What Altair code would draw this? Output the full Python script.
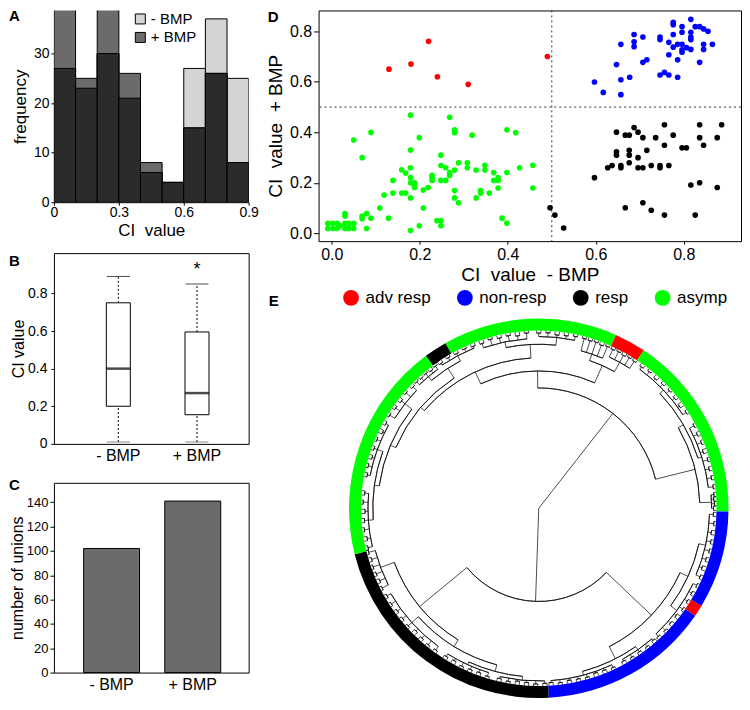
import altair as alt
import pandas as pd

FONT = "Liberation Sans"
ZERO_LABEL = "datum.value == 0 ? '0' : format(datum.value, '.1f')"

# ---------------- Panel A: overlaid histograms ----------------
hist_bin_start = [0.0, 0.1, 0.2, 0.3, 0.4, 0.5, 0.6, 0.7, 0.8]
hist_bin_end = [0.1, 0.2, 0.3, 0.4, 0.5, 0.6, 0.7, 0.8, 0.9]
hist_minus_bmp = [27, 23, 30, 21, 6, 4, 27, 37, 25]
hist_plus_bmp = [40, 25, 40, 26, 8, 4, 15, 26, 8]
hist_series = ["- BMP", "+ BMP"]

# ---------------- Panel B: box plot summaries ----------------
box_groups = ["- BMP", "+ BMP"]
box_low = [0.01, 0.01]
box_q1 = [0.20, 0.155]
box_median = [0.40, 0.27]
box_q3 = [0.75, 0.595]
box_high = [0.89, 0.85]
box_star_group = ["+ BMP"]
box_star_value = [0.926]

# ---------------- Panel C: number of unions ----------------
union_groups = ["- BMP", "+ BMP"]
union_counts = [102, 141]

# ---------------- Panel D: scatter ----------------
classes = ["adv resp", "non-resp", "resp", "asymp"]
class_colors = ["#ff0000", "#0000ff", "#000000", "#00ff00"]
quadrant_cut = [0.5]

adv_x = [0.13, 0.18, 0.22, 0.24, 0.31, 0.49]
adv_y = [0.65, 0.67, 0.76, 0.62, 0.59, 0.70]

non_x = [0.597, 0.617, 0.657, 0.657, 0.647, 0.657, 0.677, 0.687, 0.687, 0.687, 0.707, 0.707,
         0.716, 0.746, 0.756, 0.766, 0.746, 0.746, 0.766, 0.766, 0.776, 0.776, 0.776, 0.776,
         0.786, 0.786, 0.786, 0.796, 0.796, 0.796, 0.796, 0.806, 0.816, 0.816, 0.816, 0.816,
         0.816, 0.826, 0.836, 0.836, 0.845, 0.845, 0.845, 0.855, 0.865, 0.796]
non_y = [0.599, 0.558, 0.549, 0.608, 0.668, 0.748, 0.618, 0.739, 0.758, 0.787, 0.777, 0.677,
         0.687, 0.627, 0.637, 0.627, 0.777, 0.767, 0.756, 0.707, 0.787, 0.835, 0.826, 0.737,
         0.748, 0.687, 0.618, 0.748, 0.726, 0.796, 0.818, 0.735, 0.796, 0.777, 0.767, 0.847,
         0.728, 0.818, 0.818, 0.677, 0.809, 0.748, 0.728, 0.800, 0.748, 0.717]

resp_x = [0.496, 0.507, 0.527, 0.597, 0.627, 0.637, 0.647, 0.647, 0.647, 0.657, 0.657, 0.667,
          0.676, 0.676, 0.676, 0.676, 0.687, 0.696, 0.696, 0.696, 0.707, 0.707, 0.716, 0.726,
          0.736, 0.746, 0.746, 0.756, 0.756, 0.766, 0.776, 0.796, 0.806, 0.836, 0.836, 0.845,
          0.876, 0.886, 0.667, 0.707, 0.726, 0.756, 0.816, 0.836, 0.826, 0.876]
resp_y = [0.102, 0.073, 0.022, 0.221, 0.260, 0.269, 0.401, 0.323, 0.310, 0.269, 0.260, 0.389,
          0.389, 0.329, 0.310, 0.280, 0.419, 0.300, 0.401, 0.260, 0.379, 0.260, 0.329, 0.269,
          0.379, 0.269, 0.260, 0.430, 0.349, 0.269, 0.389, 0.339, 0.339, 0.430, 0.379, 0.349,
          0.379, 0.430, 0.102, 0.122, 0.092, 0.073, 0.192, 0.201, 0.073, 0.182]

asymp_x = [-0.009, -0.009, 0.002, 0.002, 0.012, 0.012, 0.019, 0.030, 0.030, 0.039, 0.039, 0.050,
           0.050, 0.030, 0.030, 0.050, 0.069, 0.089, 0.069, 0.069, 0.079, 0.079, 0.089, 0.109,
           0.119, 0.129, 0.139, 0.139, 0.159, 0.159, 0.168, 0.168, 0.179, 0.179, 0.179, 0.179,
           0.179, 0.179, 0.179, 0.188, 0.188, 0.188, 0.199, 0.199, 0.208, 0.208, 0.219, 0.228,
           0.228, 0.228, 0.239, 0.248, 0.248, 0.248, 0.248, 0.248, 0.259, 0.259, 0.268, 0.268,
           0.268, 0.279, 0.279, 0.279, 0.279, 0.279, 0.288, 0.288, 0.308, 0.308, 0.319, 0.328,
           0.328, 0.338, 0.338, 0.348, 0.348, 0.358, 0.368, 0.368, 0.378, 0.378, 0.378, 0.387,
           0.398, 0.398, 0.398, 0.418, 0.427, 0.457, 0.457]
asymp_y = [0.040, 0.020, 0.040, 0.020, 0.040, 0.020, 0.031, 0.040, 0.020, 0.040, 0.020, 0.040,
           0.020, 0.079, 0.069, 0.370, 0.300, 0.400, 0.069, 0.059, 0.079, 0.020, 0.061, 0.101,
           0.152, 0.061, 0.210, 0.160, 0.252, 0.160, 0.239, 0.160, 0.468, 0.330, 0.260, 0.221,
           0.201, 0.141, 0.012, 0.201, 0.191, 0.182, 0.379, 0.031, 0.172, 0.101, 0.182, 0.230,
           0.221, 0.210, 0.051, 0.310, 0.269, 0.210, 0.051, 0.031, 0.260, 0.210, 0.460, 0.241,
           0.230, 0.410, 0.399, 0.251, 0.170, 0.141, 0.280, 0.122, 0.280, 0.260, 0.389, 0.251,
           0.141, 0.170, 0.160, 0.270, 0.251, 0.160, 0.241, 0.210, 0.221, 0.210, 0.180, 0.061,
           0.410, 0.241, 0.041, 0.399, 0.260, 0.270, 0.180]

# ---------------- Panel E: circular dendrogram ----------------
# internal nodes: id, parent, angle (deg, clockwise from top), radius
node_id = ["root", "A", "B", "A1", "A2", "A1a", "A1b", "A1aL", "A1aR", "A1aL1", "A1aL2",
           "Q1", "Q2", "Q1a", "Q1b", "T1", "T2", "T3", "T4", "T5", "T6", "A2a", "A2b", "T7", "T8",
           "BR", "BL", "BR1", "BR2", "T9", "T10", "T11", "T12", "BL1", "BL2", "T13", "T14",
           "T13a", "T13b"]
node_parent = ["", "root", "root", "A", "A", "A1", "A1", "A1a", "A1a", "A1aL", "A1aL",
               "A1aL1", "A1aL1", "Q1", "Q1", "A1aL2", "A1aL2", "A1aR", "A1aR", "A1b", "A1b", "A2", "A2",
               "A2a", "A2a", "B", "B", "BR", "BR", "BR1", "BR1", "BR2", "BR2", "BL", "BL", "BL1", "BL1",
               "T13", "T13"]
node_theta = [110, 38, 182, -0.5, 76, -25, 24, -49.5, -3, -67, -33,
              -82, -52, -94, -70, -40, -28, -11.5, 6, 19, 29, 60, 88, 46.5, 72.5,
              133.5, 230.5, 114.5, 153, 102.5, 126.5, 145, 165, 211.5, 249.5, 195, 228,
              185.5, 204.5]
node_radius = [0, 124, 96, 141.5, 166, 155, 161, 160, 169, 166, 172,
               171, 175, 176, 177, 177, 178, 175, 177, 168, 172, 172, 178, 177, 176,
               160, 159, 169, 174, 176, 177, 178, 178, 167, 174, 174, 176,
               178, 177]
# small twigs near the ring: parent node, angle and radius of each twig
twig_parent = (["Q1a"] * 7 + ["Q1b"] * 7 + ["Q2"] * 5 + ["T1"] * 5 + ["T2"] * 5 + ["T3"] * 6
               + ["T4"] * 5 + ["T5"] * 5 + ["T6"] * 5 + ["T7"] * 8 + ["T8"] * 8 + ["A2b"] * 4
               + ["T9"] * 8 + ["T10"] * 8 + ["T11"] * 5 + ["T12"] * 8 + ["T13a"] * 6 + ["T13b"] * 6
               + ["T14"] * 9 + ["BL2"] * 6)
twig_theta = [-103, -100, -97, -94, -91, -88, -85,
              -79, -76, -73, -70, -67, -64, -61,
              -58, -55, -52, -49, -46,
              -44, -42, -40, -38, -36,
              -34, -31, -28, -25, -22,
              -19, -16, -13, -10, -7, -4,
              0, 3, 6, 9, 12,
              15, 17, 19, 21, 23,
              25, 27, 29, 31, 33,
              36, 39, 42, 45, 48, 51, 54, 57,
              62, 65, 68, 71, 74, 77, 80, 83,
              85.5, 87, 88.5, 90,
              92, 95, 98, 101, 104, 107, 110, 113,
              116, 119, 122, 125, 128, 131, 134, 137,
              139, 142, 145, 148, 151,
              155, 158, 161, 164, 167, 170, 173, 176,
              178, 181, 184, 187, 190, 193,
              197, 200, 203, 206, 209, 212,
              216, 219, 222, 225, 228, 231, 234, 237, 240,
              243, 245.5, 248, 250.5, 253, 255.5]
twig_radius = [180.5, 179.5, 181, 180, 179, 181, 180,
               180, 181, 179.5, 180.5, 181, 179, 180,
               181, 180, 179.5, 181, 180,
               181, 180.5, 181, 180, 181,
               180, 181, 180.5, 181, 180,
               179.5, 181, 180, 180.5, 179, 181,
               180.5, 181, 179.5, 180, 181,
               181, 180.5, 181, 180, 181,
               180.5, 181, 180, 181, 180.5,
               180, 181, 179.5, 180.5, 181, 180, 179, 181,
               181, 180, 180.5, 179, 181, 180, 180.5, 181,
               181, 180.5, 181, 180,
               180, 181, 179.5, 180.5, 181, 180, 179, 180.5,
               181, 180, 180.5, 181, 179.5, 180, 181, 180.5,
               180, 181, 180.5, 181, 180,
               181, 180, 179.5, 181, 180.5, 180, 181, 180,
               180.5, 181, 180, 179.5, 181, 180,
               181, 180, 180.5, 181, 179.5, 180,
               180.5, 181, 180, 179, 181, 180.5, 180, 181, 180.5,
               181, 180, 180.5, 181, 180, 181]
twig_half_width = 0.7   # angular half spread of the two leaves of a twig (deg)

ring_start = [-29.5, 24, 33.6, 91, 121, 124.5, 177, 256, 323.5]
ring_end = [24, 33.6, 91, 121, 124.5, 177, 256, 323.5, 330.5]
ring_class = ["asymp", "adv resp", "asymp", "non-resp", "adv resp", "non-resp", "resp", "asymp", "resp"]
R_MAX = 195.5        # data radius of the ring's outer edge

# ---------------- helpers ----------------
def letter(ch, dx, dy):
    return alt.Chart(pd.DataFrame({"t": [ch]})).mark_text(
        font=FONT, fontSize=15, fontWeight="bold", align="left", baseline="alphabetic", color="black"
    ).encode(x=alt.value(dx), y=alt.value(dy), text="t:N")

frame = alt.ViewBackground(stroke="black", strokeWidth=1)

# ---------------- Panel A ----------------
nb = len(hist_bin_start)
hist_df = pd.DataFrame({
    "start": hist_bin_start * 2,
    "end": hist_bin_end * 2,
    "freq": hist_minus_bmp + hist_plus_bmp,
    "series": [hist_series[0]] * nb + [hist_series[1]] * nb,
})
overlap_df = pd.DataFrame({
    "start": hist_bin_start, "end": hist_bin_end,
    "freq": [min(a, b) for a, b in zip(hist_minus_bmp, hist_plus_bmp)],
})
A_xscale = alt.Scale(domain=[0, 0.9], nice=False, zero=False)
A_xaxis = alt.Axis(values=[0, 0.3, 0.6, 0.9], labelExpr=ZERO_LABEL, title="CI\u00a0\u00a0value",
                   tickSize=3, labelPadding=0, titlePadding=3, labelFontSize=14, titleFontSize=17,
                   labelFlush=False, labelOverlap=False)
A_yscale = alt.Scale(domain=[0, 38.7], nice=False, zero=True)
A_yaxis = alt.Axis(values=[0, 10, 20, 30], title="frequency", tickSize=3, labelPadding=2,
                   titlePadding=4, labelFontSize=14, titleFontSize=17)
A_bars = alt.Chart(hist_df).mark_bar(stroke="black", strokeWidth=1, clip=True, opacity=1).encode(
    x=alt.X("start:Q", scale=A_xscale, axis=A_xaxis),
    x2="end:Q",
    y=alt.Y("freq:Q", stack=None, scale=A_yscale, axis=A_yaxis),
    y2=alt.datum(0),
    color=alt.Color("series:N", scale=alt.Scale(domain=hist_series, range=["#d4d4d4", "#6b6b6b"]),
                    legend=alt.Legend(title=None, orient="none", legendX=79, legendY=1,
                                      symbolType="square", symbolSize=100, symbolStrokeColor="black",
                                      symbolStrokeWidth=1, labelFontSize=15, labelOffset=3,
                                      rowPadding=2.5, padding=0)),
)
A_dark = alt.Chart(overlap_df).mark_bar(color="#2b2b2b", stroke="black", strokeWidth=1, clip=True).encode(
    x=alt.X("start:Q", scale=A_xscale, axis=A_xaxis),
    x2="end:Q",
    y=alt.Y("freq:Q", stack=None, scale=A_yscale, axis=A_yaxis),
    y2=alt.datum(0),
)
panel_A = alt.layer(A_bars, A_dark, letter("A", -45, 10.7)).properties(width=195, height=192)

# ---------------- Panel B ----------------
box_df = pd.DataFrame({"group": box_groups, "low": box_low, "q1": box_q1, "median": box_median,
                       "q3": box_q3, "high": box_high})
B_x = alt.X("group:N", sort=box_groups,
            scale=alt.Scale(domain=box_groups, paddingInner=0.695, paddingOuter=0.585, align=0.569),
            axis=alt.Axis(title=None, labelAngle=0, ticks=False, domain=False, labelFontSize=16,
                          labelPadding=3.5))
B_yscale = alt.Scale(domain=[0, 1.014], nice=False, zero=False)
B_yaxis = alt.Axis(values=[0, 0.2, 0.4, 0.6, 0.8], labelExpr=ZERO_LABEL, title="CI value",
                   tickSize=3, labelPadding=4, titlePadding=1, labelFontSize=14, titleFontSize=16,
                   domain=False)
def By(field):
    return alt.Y(field, scale=B_yscale, axis=B_yaxis)
B_base = alt.Chart(box_df).encode(x=B_x)
B_wh = B_base.mark_rule(color="black", strokeDash=[2, 2], strokeWidth=1).encode(y=By("q3:Q"), y2="high:Q")
B_wl = B_base.mark_rule(color="black", strokeDash=[2, 2], strokeWidth=1).encode(y=By("low:Q"), y2="q1:Q")
B_ch = B_base.mark_tick(color="black", thickness=1, size=23).encode(y=By("high:Q"))
B_cl = B_base.mark_tick(color="#555555", thickness=1, size=23).encode(y=By("low:Q"))
B_box = B_base.mark_bar(fill="white", stroke="black", strokeWidth=1).encode(y=By("q1:Q"), y2="q3:Q")
B_med = B_base.mark_tick(color="black", thickness=2.5, size=24).encode(y=By("median:Q"))
B_star = alt.Chart(pd.DataFrame({"group": box_star_group, "v": box_star_value, "t": ["*"]})).mark_text(
    fontSize=18, baseline="middle", font=FONT, color="black").encode(x=B_x, y=By("v:Q"), text="t:N")
panel_B = alt.layer(B_wh, B_wl, B_ch, B_cl, B_box, B_med, B_star, letter("B", -45, 12.4)).properties(
    width=195, height=191, view=frame)

# ---------------- Panel C ----------------
union_df = pd.DataFrame({"group": union_groups, "count": union_counts})
C_bars = alt.Chart(union_df).mark_bar(color="#6b6b6b", stroke="black", strokeWidth=1).encode(
    x=alt.X("group:N", sort=union_groups,
            scale=alt.Scale(domain=union_groups, paddingInner=0.311, paddingOuter=0.355, align=0.515),
            axis=alt.Axis(title=None, labelAngle=0, ticks=False, domain=False, labelFontSize=16,
                          labelPadding=4)),
    y=alt.Y("count:Q", scale=alt.Scale(domain=[0, 156], nice=False),
            axis=alt.Axis(values=[0, 20, 40, 60, 80, 100, 120, 140], title="number of unions",
                          tickSize=4, labelPadding=2, titlePadding=1, labelFontSize=13,
                          titleFontSize=16, domain=False)),
)
panel_C = alt.layer(C_bars, letter("C", -45, 7.5)).properties(width=195, height=190, view=frame)

# ---------------- Panel D ----------------
scatter_df = pd.concat([
    pd.DataFrame({"x": adv_x, "y": adv_y, "cls": "adv resp"}),
    pd.DataFrame({"x": non_x, "y": non_y, "cls": "non-resp"}),
    pd.DataFrame({"x": resp_x, "y": resp_y, "cls": "resp"}),
    pd.DataFrame({"x": asymp_x, "y": asymp_y, "cls": "asymp"}),
], ignore_index=True)
D_xscale = alt.Scale(domain=[-0.03, 0.93], nice=False, zero=False)
D_xaxis = alt.Axis(values=[0, 0.2, 0.4, 0.6, 0.8], format=".1f", title="CI\u00a0 value\u00a0 - BMP",
                   tickSize=3, labelPadding=2, titlePadding=3, labelFontSize=16, titleFontSize=19,
                   domain=False, labelFlush=False)
D_yscale = alt.Scale(domain=[-0.03, 0.882], nice=False, zero=False)
D_yaxis = alt.Axis(values=[0, 0.2, 0.4, 0.6, 0.8], format=".1f", title="CI\u00a0 value\u00a0 + BMP",
                   tickSize=5, labelPadding=2, titlePadding=4, labelFontSize=16, titleFontSize=19,
                   domain=False)
cut_df = pd.DataFrame({"v": quadrant_cut})
D_v = alt.Chart(cut_df).mark_rule(color="#333333", strokeDash=[2, 3], strokeWidth=1).encode(
    x=alt.X("v:Q", scale=D_xscale, axis=D_xaxis))
D_h = alt.Chart(cut_df).mark_rule(color="#333333", strokeDash=[2, 3], strokeWidth=1).encode(
    y=alt.Y("v:Q", scale=D_yscale, axis=D_yaxis))
D_pts = alt.Chart(scatter_df).mark_circle(size=32, opacity=1).encode(
    x=alt.X("x:Q", scale=D_xscale, axis=D_xaxis),
    y=alt.Y("y:Q", scale=D_yscale, axis=D_yaxis),
    color=alt.Color("cls:N", scale=alt.Scale(domain=classes, range=class_colors), legend=None),
)
panel_D = alt.layer(D_v, D_h, D_pts, letter("D", -51, 11.7)).properties(width=423, height=231, view=frame)

# ---------------- Panel E ----------------
E_W, E_H = 423, 380          # view size (px)
CX, CY = 220.5, 191.5        # ring centre inside the view (px)
R_OUT, R_IN = 190, 178       # ring radii (px)
k = R_OUT / R_MAX            # px per data unit
ring_inner_data = R_IN / k

nodes = pd.DataFrame({"id": node_id, "parent": node_parent, "theta": node_theta, "r": node_radius})
twigs = pd.DataFrame({"parent": twig_parent, "theta": twig_theta, "r": twig_radius})
twigs["id"] = ["twig%d" % i for i in range(len(twigs))]
all_nodes = pd.concat([nodes, twigs[["id", "parent", "theta", "r"]]], ignore_index=True)
leaves = pd.concat([
    pd.DataFrame({"parent": twigs["id"], "theta": twigs["theta"] - twig_half_width}),
    pd.DataFrame({"parent": twigs["id"], "theta": twigs["theta"] + twig_half_width}),
], ignore_index=True)
r_of = dict(zip(all_nodes["id"], all_nodes["r"]))
children = pd.concat([all_nodes[all_nodes["parent"] != ""][["parent", "theta"]], leaves], ignore_index=True)
span = children.groupby("parent")["theta"].agg(["min", "max"]).reset_index()
arcs_df = span[span["parent"] != "root"].copy()
arcs_df["r"] = arcs_df["parent"].map(r_of)

seg_nodes = all_nodes[all_nodes["parent"] != ""]
segs_df = pd.concat([
    pd.DataFrame({"theta": seg_nodes["theta"], "r0": seg_nodes["parent"].map(r_of), "r1": seg_nodes["r"]}),
    pd.DataFrame({"theta": leaves["theta"], "r0": leaves["parent"].map(r_of), "r1": ring_inner_data}),
], ignore_index=True)
ring_df = pd.DataFrame({"t0": ring_start, "t1": ring_end, "cls": ring_class})

E_xscale = alt.Scale(domain=[-CX / k, (E_W - CX) / k], nice=False, zero=False)
E_yscale = alt.Scale(domain=[-(E_H - CY) / k, CY / k], nice=False, zero=False)
theta_scale = alt.Scale(domain=[0, 360], range=[0, 6.283185307179586])
radius_scale = alt.Scale(type="linear", domain=[0, R_MAX], range=[0, R_OUT], zero=True)

E_segs = alt.Chart(segs_df).transform_calculate(
    xa="datum.r0 * sin(datum.theta * PI / 180)",
    ya="datum.r0 * cos(datum.theta * PI / 180)",
    xb="datum.r1 * sin(datum.theta * PI / 180)",
    yb="datum.r1 * cos(datum.theta * PI / 180)",
).mark_rule(color="black", strokeWidth=0.7).encode(
    x=alt.X("xa:Q", scale=E_xscale, axis=None),
    y=alt.Y("ya:Q", scale=E_yscale, axis=None),
    x2="xb:Q", y2="yb:Q",
)
E_arcs = alt.Chart(arcs_df).mark_arc(filled=False, color="black", strokeWidth=0.7).encode(
    theta=alt.Theta("min:Q", scale=theta_scale),
    theta2="max:Q",
    radius=alt.Radius("r:Q", scale=radius_scale),
    radius2="r:Q",
    x=alt.value(CX), y=alt.value(CY),
)
E_ring = alt.Chart(ring_df).mark_arc().encode(
    theta=alt.Theta("t0:Q", scale=theta_scale),
    theta2="t1:Q",
    radius=alt.value(R_OUT),
    radius2=alt.value(R_IN),
    x=alt.value(CX), y=alt.value(CY),
    color=alt.Color("cls:N", scale=alt.Scale(domain=classes, range=class_colors),
                    legend=alt.Legend(title=None, orient="none", legendX=24, legendY=-28,
                                      direction="horizontal", columns=4, symbolType="circle",
                                      symbolSize=250, symbolStrokeWidth=0, labelFontSize=17,
                                      columnPadding=25, labelOffset=6, padding=0)),
)
panel_E = alt.layer(E_segs, E_arcs, E_ring, letter("E", -50, -11.2)).properties(width=E_W, height=E_H)

# ---------------- Layout ----------------
left = alt.vconcat(panel_A, panel_B, panel_C, spacing=14).resolve_scale(color="independent")
right = alt.vconcat(panel_D, panel_E, spacing=4).resolve_scale(color="independent")
chart = alt.hconcat(left, right, spacing=7).resolve_scale(color="independent").properties(
    padding=0
).configure(font=FONT).configure_view(stroke=None).configure_axis(
    labelFont=FONT, titleFont=FONT, labelColor="black", titleColor="black", domainColor="black",
    tickColor="black", grid=False, titleFontWeight="normal"
).configure_legend(labelFont=FONT, labelColor="black")

chart.save("out.html", embed_options={"renderer": "svg", "actions": False})
